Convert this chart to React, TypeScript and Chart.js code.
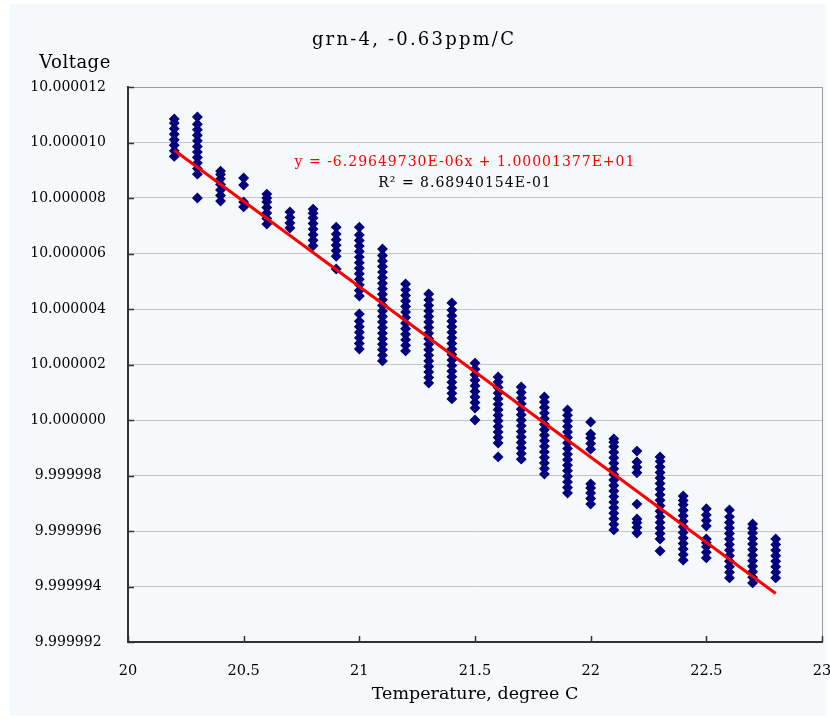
import React, { useEffect, useRef } from "react";
import { Chart, registerables } from "chart.js";

Chart.register(...registerables);

// ---- data (voltage offsets in microvolts relative to 10 V) ----
const temperaturesC = [
  20.2, 20.3, 20.4, 20.5, 20.6, 20.7, 20.8, 20.9, 21.0, 21.1, 21.2, 21.3, 21.4, 21.5,
  21.6, 21.7, 21.8, 21.9, 22.0, 22.1, 22.2, 22.3, 22.4, 22.5, 22.6, 22.7, 22.8,
];

const voltageOffsetsUv: number[][] = [
  [9.5, 9.7, 9.9, 10.1, 10.3, 10.5, 10.7, 10.85],
  [8.0, 8.86, 9.06, 9.26, 9.46, 9.66, 9.86, 10.06, 10.26, 10.46, 10.66, 10.92],
  [7.89, 8.09, 8.29, 8.49, 8.69, 8.85, 8.97],
  [7.68, 7.86, 8.47, 8.72],
  [7.06, 7.26, 7.46, 7.66, 7.86, 8.0, 8.14],
  [6.92, 7.1, 7.3, 7.5],
  [6.28, 6.48, 6.68, 6.88, 7.08, 7.28, 7.45, 7.6],
  [5.44, 5.9, 6.1, 6.3, 6.5, 6.7, 6.95],
  [2.56, 2.76, 2.96, 3.16, 3.36, 3.56, 3.82, 4.47, 4.67, 4.87, 5.07, 5.27, 5.47, 5.67, 5.87, 6.07, 6.27, 6.47, 6.67, 6.95],
  [2.13, 2.33, 2.53, 2.73, 2.93, 3.13, 3.33, 3.53, 3.73, 3.93, 4.13, 4.33, 4.53, 4.73, 4.93, 5.13, 5.33, 5.53, 5.73, 5.93, 6.16],
  [2.49, 2.69, 2.89, 3.09, 3.29, 3.49, 3.69, 3.89, 4.09, 4.29, 4.49, 4.69, 4.9],
  [1.33, 1.53, 1.73, 1.93, 2.13, 2.33, 2.53, 2.73, 2.93, 3.13, 3.33, 3.53, 3.73, 3.93, 4.13, 4.33, 4.54],
  [0.76, 0.96, 1.16, 1.36, 1.56, 1.76, 1.96, 2.16, 2.36, 2.56, 2.76, 2.96, 3.16, 3.36, 3.56, 3.76, 3.96, 4.22],
  [0.0, 0.43, 0.63, 0.83, 1.03, 1.23, 1.43, 1.63, 1.83, 2.05],
  [-1.33, -0.83, -0.63, -0.43, -0.23, -0.03, 0.17, 0.37, 0.57, 0.77, 0.97, 1.17, 1.37, 1.55],
  [-1.41, -1.21, -1.01, -0.81, -0.61, -0.41, -0.21, -0.01, 0.19, 0.39, 0.59, 0.79, 0.99, 1.19],
  [-1.95, -1.75, -1.55, -1.35, -1.15, -0.95, -0.75, -0.55, -0.35, -0.15, 0.05, 0.25, 0.45, 0.65, 0.83],
  [-2.63, -2.43, -2.23, -2.03, -1.83, -1.63, -1.43, -1.23, -1.03, -0.83, -0.63, -0.43, -0.23, -0.03, 0.17, 0.36],
  [-3.03, -2.83, -2.63, -2.45, -2.3, -1.05, -0.85, -0.65, -0.5, -0.07],
  [-3.96, -3.76, -3.56, -3.36, -3.16, -2.96, -2.76, -2.56, -2.36, -2.16, -1.96, -1.76, -1.56, -1.36, -1.16, -0.96, -0.8, -0.68],
  [-4.07, -3.87, -3.7, -3.57, -3.03, -1.9, -1.7, -1.51, -1.12],
  [-4.72, -4.29, -4.09, -3.89, -3.69, -3.49, -3.29, -3.09, -2.89, -2.69, -2.49, -2.29, -2.09, -1.89, -1.69, -1.49, -1.33],
  [-5.05, -4.85, -4.65, -4.45, -4.25, -4.05, -3.85, -3.65, -3.45, -3.25, -3.05, -2.9, -2.74],
  [-4.97, -4.77, -4.57, -4.42, -4.29, -3.82, -3.62, -3.42, -3.2],
  [-5.69, -5.49, -5.29, -5.09, -4.89, -4.69, -4.49, -4.29, -4.09, -3.89, -3.69, -3.49, -3.24],
  [-5.87, -5.67, -5.47, -5.27, -5.07, -4.87, -4.67, -4.47, -4.27, -4.07, -3.9, -3.75],
  [-5.69, -5.49, -5.29, -5.09, -4.89, -4.69, -4.49, -4.29],
];

const trendTemperaturesC = [20.2, 22.8];
const trendOffsetsUv = [9.72, -6.25];

const nominalVoltage = 10;
const chartTitle = "grn-4, -0.63ppm/C";
const equationText = "y = -6.29649730E-06x + 1.00001377E+01";
const r2Text = "R\u00B2 = 8.68940154E-01";
const xAxisTitle = "Temperature, degree C";
const yAxisTitle = "Voltage";

const FONT = "'DejaVu Serif', 'Liberation Serif', serif";

export default function App() {
  const ref = useRef<HTMLCanvasElement | null>(null);

  useEffect(() => {
    let chart: Chart | null = null;
    let cancelled = false;

    const build = () => {
      if (cancelled || !ref.current) return;
      const scatterData: { x: number; y: number }[] = [];
      temperaturesC.forEach((t, i) => {
        voltageOffsetsUv[i].forEach((v) => scatterData.push({ x: t, y: v }));
      });
      const trendData = trendTemperaturesC.map((t, i) => ({ x: t, y: trendOffsetsUv[i] }));

      const drawSpaced = (ctx: any, text: string, x: number, y: number, spacing: number) => {
        ctx.letterSpacing = `${spacing}px`;
        ctx.fillText(text, x, y);
        ctx.letterSpacing = "0px";
      };

      const decor = {
        id: "decor",
        beforeDraw(c: any) {
          const { ctx, width, height } = c;
          ctx.save();
          ctx.fillStyle = "#ffffff";
          ctx.fillRect(0, 0, width, height);
          ctx.fillStyle = "#f5f9fb";
          ctx.fillRect(10, 4, 817, 712);
          ctx.restore();
        },
        afterDraw(c: any) {
          const { ctx, chartArea } = c;
          const { left, right, top, bottom } = chartArea;
          const xs = c.scales.x;
          const ys = c.scales.y;
          ctx.save();
          ctx.strokeStyle = "#9a9a9a";
          ctx.lineWidth = 1;
          ctx.beginPath();
          ctx.moveTo(left, top + 0.5);
          ctx.lineTo(right + 0.5, top + 0.5);
          ctx.lineTo(right + 0.5, bottom);
          ctx.stroke();
          ctx.strokeStyle = "#333333";
          ctx.lineWidth = 1.5;
          ctx.beginPath();
          xs.ticks.forEach((t: any) => {
            const px = Math.round(xs.getPixelForValue(t.value)) + 0.5;
            ctx.moveTo(px, bottom);
            ctx.lineTo(px, bottom - 6);
          });
          ys.ticks.forEach((t: any) => {
            const py = Math.round(ys.getPixelForValue(t.value)) + 0.5;
            ctx.moveTo(left, py);
            ctx.lineTo(left + 6, py);
          });
          ctx.stroke();
          ctx.textAlign = "center";
          ctx.textBaseline = "middle";
          ctx.fillStyle = "#000000";
          ctx.font = `18px ${FONT}`;
          drawSpaced(ctx, chartTitle, 414, 40, 2.2);
          ctx.font = `18px ${FONT}`;
          drawSpaced(ctx, yAxisTitle, 75, 63, 0.5);
          ctx.font = `14px ${FONT}`;
          ctx.fillStyle = "#ff0000";
          drawSpaced(ctx, equationText, 465, 162, 1.0);
          ctx.fillStyle = "#000000";
          drawSpaced(ctx, r2Text, 465, 183, 1.0);
          ctx.restore();
        },
      };

      chart = new Chart(ref.current, {
        type: "scatter",
        data: {
          datasets: [
            {
              type: "line",
              data: trendData,
              borderColor: "#ff0000",
              borderWidth: 3,
              pointRadius: 0,
              fill: false,
            } as any,
            {
              data: scatterData,
              pointStyle: "rectRot",
              pointRadius: 4.6,
              backgroundColor: "#000080",
              borderColor: "#00007a",
              borderWidth: 1.2,
            },
          ],
        },
        options: {
          animation: false,
          responsive: false,
          maintainAspectRatio: false,
          layout: { padding: { left: 0, right: 8, top: 87, bottom: 0 } },
          plugins: {
            legend: { display: false },
            tooltip: { enabled: false },
          },
          scales: {
            x: {
              type: "linear",
              min: 20,
              max: 23,
              afterFit(scale: any) {
                scale.height = 77;
                scale.paddingLeft = 0;
                scale.paddingRight = 0;
              },
              ticks: {
                stepSize: 0.5,
                padding: 21,
                color: "#000000",
                font: { family: FONT, size: 14.5 },
                maxRotation: 0,
                callback: (v: any) => String(Number(Number(v).toFixed(2))),
              },
              grid: { drawOnChartArea: false, drawTicks: false },
              border: { color: "#333333", width: 2 },
              title: {
                display: true,
                text: xAxisTitle,
                color: "#000000",
                font: { family: FONT, size: 17.5 },
                padding: { top: 0, bottom: 14 },
              },
            },
            y: {
              type: "linear",
              min: -8,
              max: 12,
              afterFit(scale: any) {
                scale.width = 128;
                scale.paddingTop = 0;
                scale.paddingBottom = 0;
              },
              ticks: {
                stepSize: 2,
                crossAlign: "center",
                color: "#000000",
                font: { family: FONT, size: 14 },
                callback: (v: any) => (nominalVoltage + Number(v) / 1e6).toFixed(6),
              },
              grid: {
                color: "#c4c4c4",
                lineWidth: 1,
                drawTicks: true,
                tickLength: 19,
                tickColor: "rgba(0,0,0,0)",
              },
              border: { color: "#333333", width: 2 },
            },
          },
        },
        plugins: [decor],
      });
    };

    const fonts: any = (document as any).fonts;
    if (fonts && fonts.load) {
      Promise.all([fonts.load("15px 'DejaVu Serif'")])
        .catch(() => null)
        .then(build);
    } else {
      build();
    }

    return () => {
      cancelled = true;
      if (chart) chart.destroy();
    };
  }, []);

  return (
    <canvas
      ref={ref}
      width={830}
      height={719}
      style={{ position: "fixed", left: 0, top: 0, display: "block" }}
    />
  );
}
